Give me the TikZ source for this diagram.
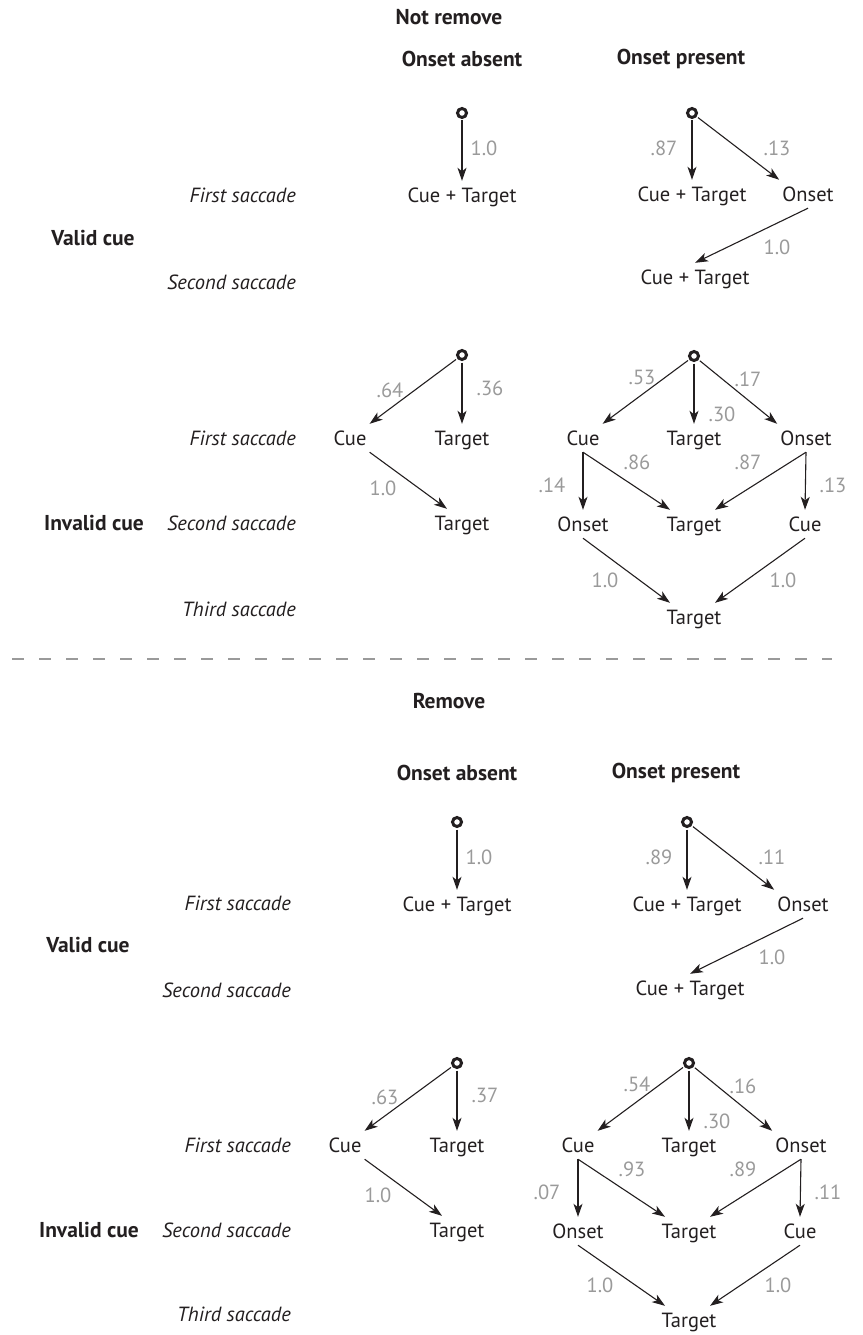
\documentclass[tikz,border=0pt]{standalone}
\usepackage{fontspec}
\setmainfont{PT Sans}
\usetikzlibrary{arrows.meta}

\definecolor{ink}{HTML}{231F20}
\definecolor{probgray}{HTML}{9A9A9A}

\tikzset{
  state/.style={font=\fontsize{20.5}{24}\selectfont, text=ink, inner xsep=3pt, inner ysep=7pt, text height=14pt, text depth=0pt},
  prob/.style={font=\fontsize{20.5}{24}\selectfont, text=probgray, inner sep=0pt},
  start/.style={circle, draw=ink, line width=3pt, minimum size=9pt, inner sep=0pt, outer sep=3pt},
  arr/.style={-{Stealth[length=13pt,width=9pt,inset=3.5pt]}, draw=ink, line width=1.1pt},
  rowlab/.style={font=\itshape\fontsize{20.5}{24}\selectfont, text=ink, anchor=east, inner sep=0pt},
  head/.style={font=\bfseries\fontsize{21.5}{24}\selectfont, text=ink, inner sep=0pt},
}

\begin{document}
\begin{tikzpicture}[x=1pt,y=-1pt]
  \useasboundingbox (0,0) rectangle (862,1335);

  % section titles
  \node[head] (notremove) at (449,17) {Not remove};
  \node[head] (remove) at (449,701) {Remove};
  \coordinate (sepl) at (12,659);
  \coordinate (sepr) at (832,659);
  \draw[probgray, line width=1.4pt, dash pattern=on 12pt off 15pt] (sepl) -- (sepr);

  %% Not remove
  \begin{scope}[name prefix=nr-]
    \node[head] (absent) at (462,59) {Onset absent};
    \node[head] (present) at (681,59) {Onset present};
    \node[head] (valid) at (93,238) {Valid cue};
    \node[head] (invalid) at (94,523) {Invalid cue};
    \node[rowlab] (v1) at (296,195) {First saccade};
    \node[rowlab] (v2) at (296,282) {Second saccade};
    \node[rowlab] (i1) at (296,438) {First saccade};
    \node[rowlab] (i2) at (296,523) {Second saccade};
    \node[rowlab] (i3) at (296,609) {Third saccade};

    % valid cue, onset absent
    \node[start] (a0) at (462,113) {};
    \node[state] (a1) at (462,195) {Cue + Target};
    \draw[arr] (a0) -- (a1);
    \node[prob] (pa1) at (484,148) {1.0};

    % valid cue, onset present
    \node[start] (b0) at (692,113) {};
    \node[state] (b1) at (692,194) {Cue + Target};
    \node[state] (b2) at (808,194) {Onset};
    \node[state] (b3) at (695,277) {Cue + Target};
    \draw[arr] (b0) -- (b1);
    \draw[arr] (b0) -- (b2.north west);
    \draw[arr] (b2.south) -- (b3.north);
    \node[prob] (pb1) at (664,148) {.87};
    \node[prob] (pb2) at (777,148) {.13};
    \node[prob] (pb3) at (777,247) {1.0};

    % invalid cue, onset absent
    \node[start] (c0) at (462,355) {};
    \node[state] (c1) at (350,438) {Cue};
    \node[state] (c2) at (462,438) {Target};
    \node[state] (c3) at (462,523) {Target};
    \draw[arr] (c0) -- (c1.north east);
    \draw[arr] (c0) -- (c2);
    \draw[arr] (c1.south east) -- ([xshift=-15pt]c3.north);
    \node[prob] (pc1) at (390,390) {.64};
    \node[prob] (pc2) at (490,388) {.36};
    \node[prob] (pc3) at (383,488) {1.0};

    % invalid cue, onset present
    \node[start] (d0) at (694,356) {};
    \node[state] (d1) at (583,438) {Cue};
    \node[state] (d2) at (694,438) {Target};
    \node[state] (d3) at (806,438) {Onset};
    \node[state] (d4) at (583,524) {Onset};
    \node[state] (d5) at (694,524) {Target};
    \node[state] (d6) at (805,524) {Cue};
    \node[state] (d7) at (694,617) {Target};
    \draw[arr] (d0) -- (d1.north east);
    \draw[arr] (d0) -- (d2);
    \draw[arr] (d0) -- (d3.north west);
    \draw[arr] (d1.south) -- (d4.north);
    \draw[arr] (d1.south) -- ([xshift=-24pt]d5.north);
    \draw[arr] (d3.south) -- ([xshift=21pt]d5.north);
    \draw[arr] (d3.south) -- (d6.north);
    \draw[arr] (d4.south) -- ([xshift=-24pt]d7.north);
    \draw[arr] (d6.south) -- ([xshift=21pt]d7.north);
    \node[prob] (pd1) at (642,377) {.53};
    \node[prob] (pd2) at (722,414) {.30};
    \node[prob] (pd3) at (748,379) {.17};
    \node[prob] (pd4) at (552,485) {.14};
    \node[prob] (pd5) at (637,462) {.86};
    \node[prob] (pd6) at (748,462) {.87};
    \node[prob] (pd7) at (833,485) {.13};
    \node[prob] (pd8) at (605,580) {1.0};
    \node[prob] (pd9) at (783,580) {1.0};
  \end{scope}

  %% Remove
  \begin{scope}[shift={(-5,707)}, name prefix=rm-]
    \node[head] (absent) at (462,66) {Onset absent};
    \node[head] (present) at (681,66) {Onset present};
    \node[head] (valid) at (93,238) {Valid cue};
    \node[head] (invalid) at (94,523) {Invalid cue};
    \node[rowlab] (v1) at (296,196) {First saccade};
    \node[rowlab] (v2) at (296,283) {Second saccade};
    \node[rowlab] (i1) at (296,438) {First saccade};
    \node[rowlab] (i2) at (296,523) {Second saccade};
    \node[rowlab] (i3) at (296,607) {Third saccade};

    % valid cue, onset absent
    \node[start] (a0) at (462,115) {};
    \node[state] (a1) at (462,197) {Cue + Target};
    \draw[arr] (a0) -- (a1);
    \node[prob] (pa1) at (484,150) {1.0};

    % valid cue, onset present
    \node[start] (b0) at (692,115) {};
    \node[state] (b1) at (692,197) {Cue + Target};
    \node[state] (b2) at (808,197) {Onset};
    \node[state] (b3) at (695,281) {Cue + Target};
    \draw[arr] (b0) -- (b1);
    \draw[arr] (b0) -- (b2.north west);
    \draw[arr] (b2.south) -- (b3.north);
    \node[prob] (pb1) at (664,150) {.89};
    \node[prob] (pb2) at (777,150) {.11};
    \node[prob] (pb3) at (777,250) {1.0};

    % invalid cue, onset absent
    \node[start] (c0) at (462,356) {};
    \node[state] (c1) at (350,438) {Cue};
    \node[state] (c2) at (462,438) {Target};
    \node[state] (c3) at (462,523) {Target};
    \draw[arr] (c0) -- (c1.north east);
    \draw[arr] (c0) -- (c2);
    \draw[arr] (c1.south east) -- ([xshift=-15pt]c3.north);
    \node[prob] (pc1) at (390,390) {.63};
    \node[prob] (pc2) at (490,388) {.37};
    \node[prob] (pc3) at (383,488) {1.0};

    % invalid cue, onset present
    \node[start] (d0) at (694,356) {};
    \node[state] (d1) at (583,438) {Cue};
    \node[state] (d2) at (694,438) {Target};
    \node[state] (d3) at (806,438) {Onset};
    \node[state] (d4) at (583,524) {Onset};
    \node[state] (d5) at (694,524) {Target};
    \node[state] (d6) at (805,524) {Cue};
    \node[state] (d7) at (694,613) {Target};
    \draw[arr] (d0) -- (d1.north east);
    \draw[arr] (d0) -- (d2);
    \draw[arr] (d0) -- (d3.north west);
    \draw[arr] (d1.south) -- (d4.north);
    \draw[arr] (d1.south) -- ([xshift=-24pt]d5.north);
    \draw[arr] (d3.south) -- ([xshift=21pt]d5.north);
    \draw[arr] (d3.south) -- (d6.north);
    \draw[arr] (d4.south) -- ([xshift=-24pt]d7.north);
    \draw[arr] (d6.south) -- ([xshift=21pt]d7.north);
    \node[prob] (pd1) at (642,377) {.54};
    \node[prob] (pd2) at (722,414) {.30};
    \node[prob] (pd3) at (748,379) {.16};
    \node[prob] (pd4) at (552,485) {.07};
    \node[prob] (pd5) at (637,462) {.93};
    \node[prob] (pd6) at (748,462) {.89};
    \node[prob] (pd7) at (833,485) {.11};
    \node[prob] (pd8) at (605,578) {1.0};
    \node[prob] (pd9) at (783,578) {1.0};
  \end{scope}
\end{tikzpicture}
\end{document}
